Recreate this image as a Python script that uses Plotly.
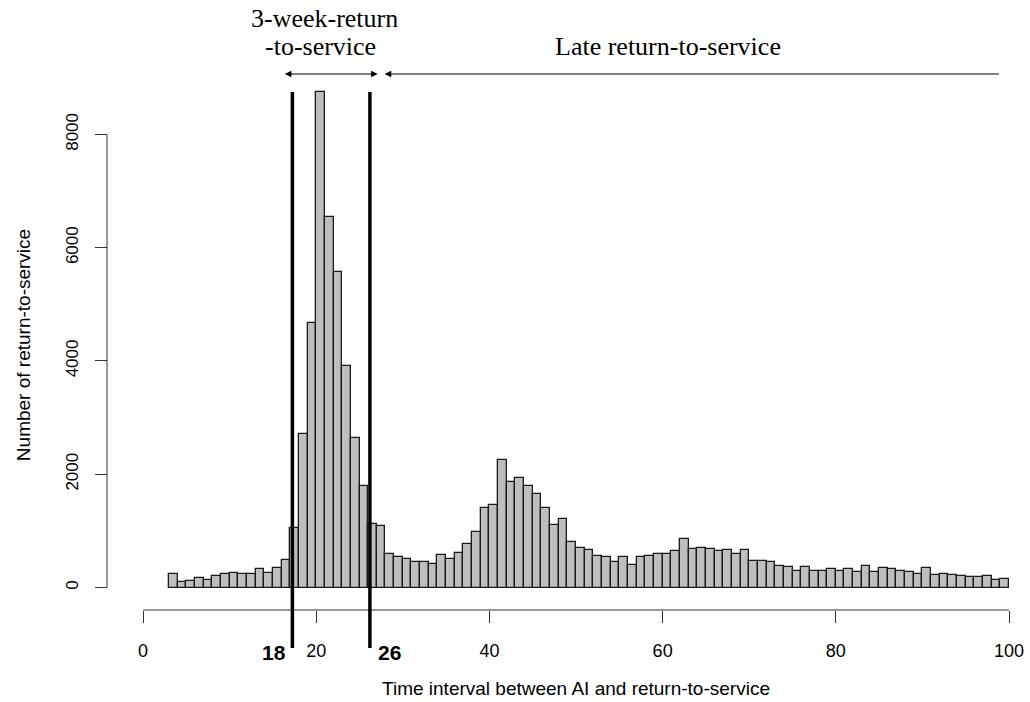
import plotly.graph_objects as go

# ---- data ----
bin_left = list(range(3, 100))  # histogram bins of width 1: [k, k+1)
counts = [240, 98, 122, 160, 136, 200, 243, 263, 243, 240, 320, 263, 345, 482, 1046,
          2705, 4676, 8745, 6537, 5566, 3917, 2646, 1798, 1125, 1085,
          598, 540, 500, 455, 455, 420, 578, 500, 618, 760, 980, 1407, 1463,
          2250, 1866, 1925, 1786, 1645, 1407, 1098, 1207, 800, 697,
          662, 556, 540, 455, 540, 394, 540, 556, 595, 600,
          644, 862, 683, 706, 686, 647, 668, 586, 668, 468,
          468, 444, 388, 365, 286, 365, 286, 286, 324, 286,
          324, 268, 388, 268, 347, 324, 286, 268, 244, 347,
          224, 247, 227, 203, 183, 183, 203, 141, 159]
x_ticks = [0, 20, 40, 60, 80, 100]
y_ticks = [0, 2000, 4000, 6000, 8000]
cut_lines = [17.25, 26.2]
cut_labels = ["18", "26"]
x_title = "Time interval between AI and return-to-service"
y_title = "Number of return-to-service"
period1_label = ["3-week-return", "-to-service"]
period2_label = "Late return-to-service"

# ---- layout geometry (pixels) ----
W, H = 1030, 702
ml, mr, mt = 87, 0, 80
plot_bottom = 610
mb = H - plot_bottom
pw = W - ml - mr
ph = plot_bottom - mt

def py(p):
    return (plot_bottom - p) / ph

sans = "Liberation Sans, Arial, sans-serif"
serif = "Liberation Serif, Times New Roman, serif"

fig = go.Figure()
fig.add_trace(go.Bar(
    x=bin_left, y=counts, width=1, offset=0,
    marker=dict(color="#BEBEBE", line=dict(color="#1a1a1a", width=1.3)),
    showlegend=False, hoverinfo="x+y",
))

fig.update_layout(
    width=W, height=H,
    margin=dict(l=ml, r=mr, t=mt, b=mb, pad=0),
    paper_bgcolor="white", plot_bgcolor="white",
    bargap=0,
    font=dict(family=sans, color="black"),
    xaxis=dict(
        domain=[35 / pw, 1], range=[-2.425, 102.42],
        tickvals=x_ticks, ticktext=[str(v) for v in x_ticks],
        ticks="outside", ticklen=12, tickwidth=1, tickcolor="#333",
        showline=False, showgrid=False, zeroline=False,
        tickfont=dict(size=18, family=sans), ticklabelstandoff=12,
        title=dict(text=x_title, font=dict(size=19, family=sans), standoff=22),
    ),
    yaxis=dict(
        anchor="free", position=20 / pw,
        range=[(587.5 - plot_bottom) / 0.05663, (587.5 - mt) / 0.05663],
        tickvals=y_ticks, ticktext=[str(v) for v in y_ticks],
        ticks="outside", ticklen=12, tickwidth=1, tickcolor="#333",
        tickangle=-90,
        showline=False, showgrid=False, zeroline=False,
        tickfont=dict(size=17, family=sans), ticklabelstandoff=10,
        title=dict(text=y_title, font=dict(size=19, family=sans), standoff=26),
    ),
)

shapes = []
# R-style axis lines spanning only the tick range
shapes.append(dict(type="line", xref="x", yref="paper", x0=x_ticks[0], x1=x_ticks[-1],
                   y0=0, y1=0, line=dict(color="#333", width=1)))
shapes.append(dict(type="line", xref="paper", yref="y", x0=20 / pw, x1=20 / pw,
                   y0=y_ticks[0], y1=y_ticks[-1], line=dict(color="#333", width=1)))
for xv in cut_lines:
    shapes.append(dict(type="line", xref="x", yref="paper", x0=xv, x1=xv,
                       y0=py(648), y1=py(92), line=dict(color="black", width=3.5)))
fig.update_layout(shapes=shapes)

ann = []
ann.append(dict(x=cut_lines[0], xref="x", y=py(652), yref="paper", text=cut_labels[0],
                showarrow=False, xanchor="right", xshift=-4, yanchor="middle",
                font=dict(size=21, family=sans, color="black", weight="bold")))
ann.append(dict(x=cut_lines[1], xref="x", y=py(652), yref="paper", text=cut_labels[1],
                showarrow=False, xanchor="left", xshift=6, yanchor="middle",
                font=dict(size=21, family=sans, color="black", weight="bold")))
ann.append(dict(x=21.0, xref="x", y=py(19), yref="paper", text=period1_label[0],
                showarrow=False, xanchor="center", yanchor="middle",
                font=dict(size=26, family=serif, color="black")))
ann.append(dict(x=20.5, xref="x", y=py(47), yref="paper", text=period1_label[1],
                showarrow=False, xanchor="center", yanchor="middle",
                font=dict(size=26, family=serif, color="black")))
ann.append(dict(x=60.6, xref="x", y=py(47), yref="paper", text=period2_label,
                showarrow=False, xanchor="center", yanchor="middle",
                font=dict(size=26, family=serif, color="black")))
# arrows
ann.append(dict(x=27.1, xref="x", y=py(74), yref="paper", ax=16.2, axref="x", ay=0, ayref="pixel",
                text="", showarrow=True, arrowside="end+start", arrowhead=2, arrowsize=1.1,
                arrowwidth=1.2, arrowcolor="black"))
ann.append(dict(x=27.9, xref="x", y=py(74), yref="paper", ax=99.0, axref="x", ay=0, ayref="pixel",
                text="", showarrow=True, arrowhead=2, arrowsize=1.1,
                arrowwidth=1.2, arrowcolor="black"))
fig.update_layout(annotations=ann)

fig.write_html("out.html")
